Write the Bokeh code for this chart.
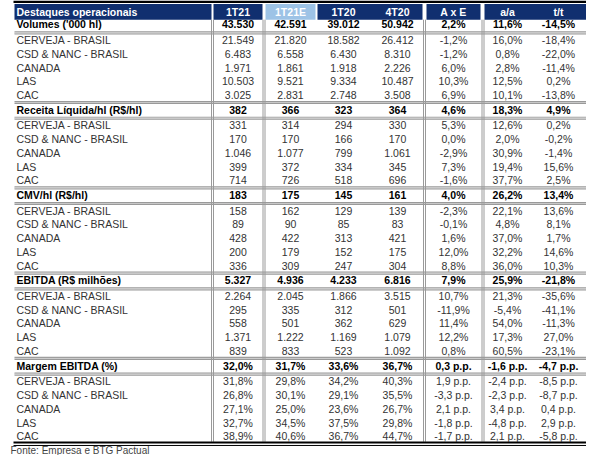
from bokeh.plotting import figure
from bokeh.models import Range1d
from bokeh.core.properties import value
from bokeh.embed import file_html
from bokeh.resources import INLINE

# ---------------- data ----------------
columns = ["1T21", "1T21E", "1T20", "4T20", "A x E", "a/a", "t/t"]
title_header = "Destaques operacionais"
sections = ["Volumes ('000 hl)", "Receita Líquida/hl (R$/hl)", "CMV/hl (R$/hl)",
            "EBITDA (R$ milhões)", "Margem EBITDA (%)"]
segments = ["CERVEJA - BRASIL", "CSD & NANC - BRASIL", "CANADA", "LAS", "CAC"]

volumes = [
    ["43.530", "42.591", "39.012", "50.942", "2,2%", "11,6%", "-14,5%"],
    ["21.549", "21.820", "18.582", "26.412", "-1,2%", "16,0%", "-18,4%"],
    ["6.483", "6.558", "6.430", "8.310", "-1,2%", "0,8%", "-22,0%"],
    ["1.971", "1.861", "1.918", "2.226", "6,0%", "2,8%", "-11,4%"],
    ["10.503", "9.521", "9.334", "10.487", "10,3%", "12,5%", "0,2%"],
    ["3.025", "2.831", "2.748", "3.508", "6,9%", "10,1%", "-13,8%"],
]
receita_hl = [
    ["382", "366", "323", "364", "4,6%", "18,3%", "4,9%"],
    ["331", "314", "294", "330", "5,3%", "12,6%", "0,2%"],
    ["170", "170", "166", "170", "0,0%", "2,0%", "-0,2%"],
    ["1.046", "1.077", "799", "1.061", "-2,9%", "30,9%", "-1,4%"],
    ["399", "372", "334", "345", "7,3%", "19,4%", "15,6%"],
    ["714", "726", "518", "696", "-1,6%", "37,7%", "2,5%"],
]
cmv_hl = [
    ["183", "175", "145", "161", "4,0%", "26,2%", "13,4%"],
    ["158", "162", "129", "139", "-2,3%", "22,1%", "13,6%"],
    ["89", "90", "85", "83", "-0,1%", "4,8%", "8,1%"],
    ["428", "422", "313", "421", "1,6%", "37,0%", "1,7%"],
    ["200", "179", "152", "175", "12,0%", "32,2%", "14,6%"],
    ["336", "309", "247", "304", "8,8%", "36,0%", "10,3%"],
]
ebitda = [
    ["5.327", "4.936", "4.233", "6.816", "7,9%", "25,9%", "-21,8%"],
    ["2.264", "2.045", "1.866", "3.515", "10,7%", "21,3%", "-35,6%"],
    ["295", "335", "312", "501", "-11,9%", "-5,4%", "-41,1%"],
    ["558", "501", "362", "629", "11,4%", "54,0%", "-11,3%"],
    ["1.371", "1.222", "1.169", "1.079", "12,2%", "17,3%", "27,0%"],
    ["839", "833", "523", "1.092", "0,8%", "60,5%", "-23,1%"],
]
margem = [
    ["32,0%", "31,7%", "33,6%", "36,7%", "0,3 p.p.", "-1,6 p.p.", "-4,7 p.p."],
    ["31,8%", "29,8%", "34,2%", "40,3%", "1,9 p.p.", "-2,4 p.p.", "-8,5 p.p."],
    ["26,8%", "30,1%", "29,1%", "35,5%", "-3,3 p.p.", "-2,3 p.p.", "-8,7 p.p."],
    ["27,1%", "25,0%", "23,6%", "26,7%", "2,1 p.p.", "3,4 p.p.", "0,4 p.p."],
    ["32,7%", "34,5%", "37,5%", "29,8%", "-1,8 p.p.", "-4,8 p.p.", "2,9 p.p."],
    ["38,9%", "40,6%", "36,7%", "44,7%", "-1,7 p.p.", "2,1 p.p.", "-5,8 p.p."],
]
source_note = "Fonte: Empresa e BTG Pactual"
tables = [volumes, receita_hl, cmv_hl, ebitda, margem]

# ---------------- layout / style ----------------
FONT = value("Liberation Sans")
FS = "10.5px"
NAVY = "#102f6f"
LIGHT = "#9dc3e6"
GRAY = "#9a9a9a"
LIFT = 0.75   # small upward nudge of text inside its row

col_centers = [237.5, 290, 343, 397, 453, 507, 558]
label_x = 16
left, right = 14, 588
header_y = 11.5
sec_y0, sec_pitch = 25, 86.8
sub_off, sub_pitch = 16, 14

p = figure(width=586, height=455, x_range=Range1d(0, 586), y_range=Range1d(463, 0),
           output_backend="svg", toolbar_location=None, min_border=0)
p.axis.visible = False
p.grid.visible = False
p.outline_line_color = None
p.background_fill_color = "white"
p.border_fill_color = "white"


def txt(xs, ys, labels, align, bold=False, color="#333333", size=FS):
    p.text(x=xs, y=[y - LIFT for y in ys], text=labels, text_font=FONT, text_font_size=size,
           text_font_style="bold" if bold else "normal", text_color=color,
           text_baseline="middle", text_align=align)


# header cells
p.quad(left=[14, 213, 265, 317, 426, 484], right=[211, 262, 315, 422, 480, 587],
       top=[3.5] * 6, bottom=[19.5] * 6,
       fill_color=[NAVY, NAVY, LIGHT, NAVY, NAVY, NAVY], line_color=None)
# top black rule
p.segment(x0=[13], y0=[1.3], x1=[586], y1=[1.3], line_color="black", line_width=2.6)

txt([label_x], [header_y + 0.75], [title_header], "left", bold=True, color="white")
txt(col_centers, [header_y + 0.75] * len(columns), columns, "center", bold=True, color="white")

# horizontal gray double rules
hy = []
for k in range(len(sections)):
    sy = sec_y0 + sec_pitch * k
    hy.append(sy + 8)
    if k > 0:
        hy.append(sy - 8)
for yy in hy:
    p.segment(x0=[left, left], y0=[yy - 1, yy + 1], x1=[right, right], y1=[yy - 1, yy + 1],
              line_color=GRAY, line_width=1.2)
    p.segment(x0=[left], y0=[yy], x1=[right], y1=[yy], line_color="#c8c8c8", line_width=1)

# vertical gray double rules
for xx in [212, 263.5, 424, 482.5]:
    p.segment(x0=[xx - 1, xx + 1], y0=[19.5, 19.5], x1=[xx - 1, xx + 1], y1=[449, 449],
              line_color=GRAY, line_width=1)

# bottom black double rule
p.segment(x0=[13, 13], y0=[449.8, 452.8], x1=[593, 593], y1=[449.8, 452.8],
          line_color="black", line_width=[2, 1])

# body
for k, (sec, tab) in enumerate(zip(sections, tables)):
    sy = sec_y0 + sec_pitch * k
    txt([label_x], [sy], [sec], "left", bold=True, color="black")
    txt(col_centers, [sy] * len(columns), tab[0], "center", bold=True, color="black")
    for j, seg in enumerate(segments):
        yy = sy + sub_off + sub_pitch * j
        txt([label_x], [yy], [seg], "left")
        txt(col_centers, [yy] * len(columns), tab[j + 1], "center")

# source note
txt([10], [458.5], [source_note], "left", color="#444444", size="10px")

open("out.html", "w").write(file_html(p, INLINE))
